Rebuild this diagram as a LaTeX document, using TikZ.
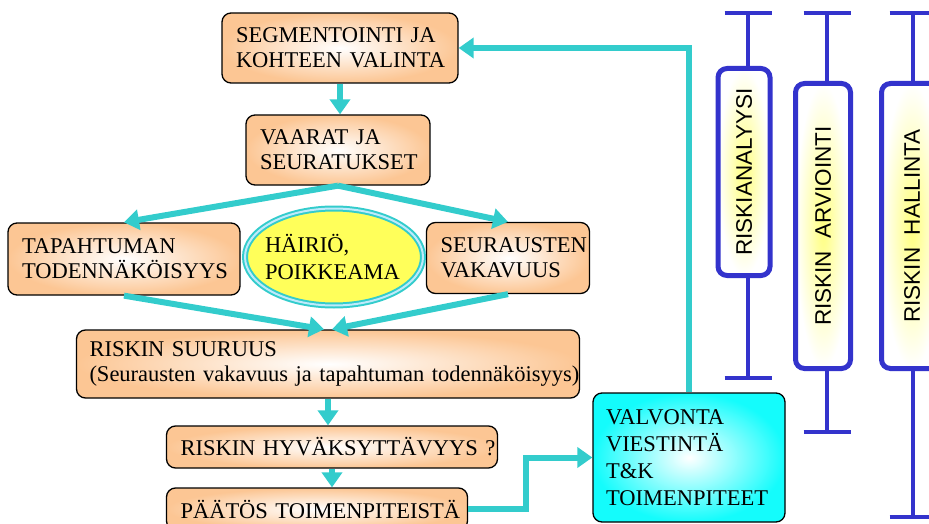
\documentclass[tikz,border=0pt]{standalone}
\usepackage{fontspec}
\setmainfont{Liberation Serif}
\setsansfont{Liberation Sans}
\usetikzlibrary{arrows.meta,shapes.geometric}

\definecolor{peach}{RGB}{252,198,148}
\definecolor{flowcyan}{RGB}{51,204,204}
\definecolor{boxcyan}{RGB}{20,252,252}
\definecolor{barblue}{RGB}{51,51,204}
\definecolor{hairioyellow}{RGB}{255,255,90}

\tikzset{
  stepbox/.style={draw=black, line width=1.3pt, rounded corners=9pt, shade,
    inner color=white, outer color=peach, align=left, inner xsep=14pt,
    font=\fontsize{22.5}{25}\selectfont},
  flow/.style={draw=flowcyan, line width=6pt, -{Triangle[width=20pt,length=15pt]}},
  phasebox/.style={draw=barblue, line width=5pt, rounded corners=9pt, shade,
    inner color=yellow!50!white, outer color=white, rotate=90,
    font=\sffamily\fontsize{22.5}{24}\selectfont},
  bar/.style={draw=barblue, line width=4.5pt},
}

\begin{document}
\begin{tikzpicture}[x=1pt,y=-1pt]
    \useasboundingbox (0,0) rectangle (929,524);
    \clip (0,0) rectangle (929,524);

    % Flow chart boxes
    \node[stepbox, text width=208pt, minimum height=70pt] (seg) at (340,48) {\mbox{SEGMENTOINTI JA}\\\mbox{KOHTEEN VALINTA}};
    \node[stepbox, text width=156pt, minimum height=70pt] (vaarat) at (338,150) {VAARAT JA\\SEURATUKSET};
    \node[stepbox, text width=204pt, minimum height=72pt] (tapaht) at (124,259) {TAPAHTUMAN\\\mbox{TODENNÄKÖISYYS}};
    \node[stepbox, text width=135pt, minimum height=71pt] (seuraus) at (508,258) {SEURAUSTEN\\VAKAVUUS};
    \node[ellipse, draw=flowcyan, line width=2pt, double=cyan!25, double distance=2pt,
          fill=hairioyellow, minimum width=178pt, minimum height=97pt,
          font=\fontsize{22.5}{27}\selectfont] (hairio) at (334,257)
        {\makebox[0pt]{\parbox{138pt}{HÄIRIÖ,\\POIKKEAMA}}};
    \node[stepbox, inner xsep=13pt, text width=477pt, minimum height=68pt] (suuruus) at (328,364)
        {RISKIN SUURUUS\\\mbox{(Seurausten vakavuus ja tapahtuman todennäköisyys)}};
    \node[stepbox, text width=303pt, minimum height=42pt] (hyvaks) at (332,447) {\mbox{RISKIN HYVÄKSYTTÄVYYS ?}};
    \node[stepbox, text width=273pt, minimum height=42pt] (paatos) at (317,509) {\mbox{PÄÄTÖS TOIMENPITEISTÄ}};
    \node[stepbox, outer color=boxcyan, inner xsep=13pt, text width=166pt, minimum height=129pt,
          font=\fontsize{22.5}{27}\selectfont] (valv) at (689,457.5)
        {VALVONTA\\VIESTINTÄ\\T\&K\\TOIMENPITEET};

    % Connectors
    \draw[flow] (seg.south) -- (seg.south |- vaarat.north);
    \draw[flow] (vaarat.south) -- (tapaht.north);
    \draw[flow] (vaarat.south) -- (seuraus.north);
    \draw[flow] (tapaht.south) -- ([xshift=-4pt]suuruus.north);
    \draw[flow] (seuraus.south) -- ([xshift=4pt]suuruus.north);
    \draw[flow] (suuruus.south) -- (suuruus.south |- hyvaks.north);
    \draw[flow] (hyvaks.south) -- (hyvaks.south |- paatos.north);
    \draw[flow] (paatos.east) -- ++(58,0) |- (valv.west);
    \draw[flow] (valv.north) |- (seg.east);

    % Phase bars
    \coordinate (ana top) at (748,13);
    \coordinate (ana bot) at (748,378);
    \coordinate (arv top) at (827,13);
    \coordinate (arv bot) at (827,432);
    \coordinate (hal top) at (913,13);
    \coordinate (hal bot) at (913,517);

    \draw[bar] (ana top) -- (ana bot);
    \draw[bar] ([xshift=-23.5pt]ana top) -- ([xshift=23.5pt]ana top);
    \draw[bar] ([xshift=-23.5pt]ana bot) -- ([xshift=23.5pt]ana bot);
    \draw[bar] (arv top) -- (arv bot);
    \draw[bar] ([xshift=-23.5pt]arv top) -- ([xshift=23.5pt]arv top);
    \draw[bar] ([xshift=-23.5pt]arv bot) -- ([xshift=23.5pt]arv bot);
    \draw[bar] (hal top) -- (hal bot);
    \draw[bar] ([xshift=-23.5pt]hal top) -- ([xshift=23.5pt]hal top);
    \draw[bar] ([xshift=-23.5pt]hal bot) -- ([xshift=23.5pt]hal bot);

    \node[phasebox, minimum width=207pt, minimum height=52pt] (analyysi) at (744,172) {RISKIANALYYSI};
    \node[phasebox, minimum width=285pt, minimum height=55pt] (arviointi) at (823,226) {RISKIN\ \ ARVIOINTI};
    \node[phasebox, minimum width=285pt, minimum height=61pt] (hallinta) at (912,226) {RISKIN\ \ HALLINTA};

\end{tikzpicture}
\end{document}
